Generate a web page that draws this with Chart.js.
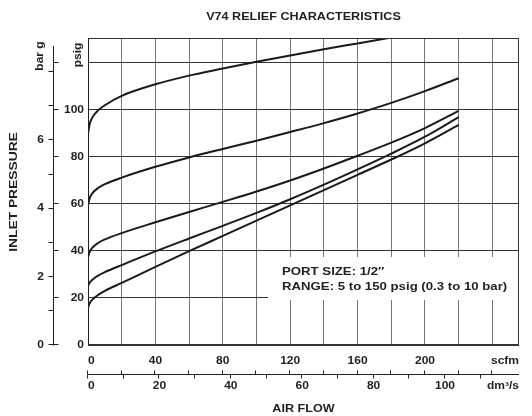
<!DOCTYPE html>
<html>
<head>
<meta charset="utf-8">
<script src="https://cdn.jsdelivr.net/npm/chart.js@4.4.0/dist/chart.umd.min.js"></script>
<style>
    html, body { margin: 0; padding: 0; background: #fff; }
    #wrap { width: 532px; height: 416px; }
</style>
</head>
<body>
<div id="wrap"><canvas id="reliefChart" width="532" height="416"></canvas></div>
<script>
// air flow in scfm, shared by all curves
const FLOW_SCFM = [0, 1, 3, 6, 10, 20, 40, 60, 80, 100, 120, 140, 160, 180, 200, 220];

// inlet pressure (psig), one array per set pressure
const CURVE_A = [89.8, 94, 97.3, 99.8, 102, 106, 110.9, 114.6, 117.6, 120.5, 123.2, 125.8, 128.3, 130.8, null, null];
const CURVE_B = [59.6, 62.5, 64.9, 66.8, 68.4, 71.2, 75.8, 79.8, 83.4, 86.9, 90.6, 94.4, 98.5, 103, 108, 113.5];
const CURVE_C = [37.3, 39.6, 41.7, 43.4, 44.9, 47.6, 52.2, 56.6, 60.9, 65.3, 70, 75.1, 80.5, 86.1, 92.3, 99.6];
const CURVE_D = [25.1, 26.5, 28, 29.5, 31, 34, 39.8, 45.3, 50.7, 56.2, 62, 68.2, 74.7, 81.4, 88.6, 96.9];
const CURVE_E = [16, 17.8, 19.6, 21.3, 23, 26.4, 33.2, 39.9, 46.4, 52.9, 59.4, 65.9, 72.4, 78.9, 85.8, 93.6];

const PSIG_TICKS = [0, 20, 40, 60, 80, 100, 120];
const PSIG_LABELS = [0, 20, 40, 60, 80, 100];
const BAR_TICKS = [0, 1, 2, 3, 4, 5, 6, 7, 8];
const BAR_LABELS = [0, 2, 4, 6];
const SCFM_TICKS = [0, 20, 40, 60, 80, 100, 120, 140, 160, 180, 200, 220, 240];
const SCFM_LABELS = [0, 40, 80, 120, 160, 200];
const DM3S_TICKS = [0, 10, 20, 30, 40, 50, 60, 70, 80, 90, 100, 110];
const DM3S_LABELS = [0, 20, 40, 60, 80, 100];

const PSI_PER_BAR = 14.5038;
const SCFM_PER_DM3S = 2.11888;

const INK = '#231f20';
const FONT = '"Liberation Sans", Arial, sans-serif';

function crisp(v) {
    return Math.round(v) + 0.5;
}

function txt(ctx, s, x, y, size, align, rot) {
    ctx.save();
    ctx.translate(x, y);
    if (rot) ctx.rotate(-Math.PI / 2);
    ctx.scale(1.2, 1);
    ctx.font = `bold ${size}px ${FONT}`;
    ctx.textAlign = align;
    ctx.textBaseline = 'middle';
    ctx.fillStyle = INK;
    ctx.fillText(s, 0, 0);
    ctx.restore();
}

function line(ctx, x1, y1, x2, y2) {
    ctx.beginPath();
    ctx.moveTo(x1, y1);
    ctx.lineTo(x2, y2);
    ctx.stroke();
}

const decor = {
    id: 'decor',
    beforeDatasetsDraw(chart) {
        const ctx = chart.ctx;
        const area = chart.chartArea;
        // blank panel behind the port size note
        ctx.save();
        ctx.fillStyle = '#fff';
        ctx.fillRect(268, 257, area.right - 268, 43);
        ctx.restore();
    },
    afterDraw(chart) {
        const ctx = chart.ctx;
        const area = chart.chartArea;
        const xs = chart.scales.x;
        const ys = chart.scales.y;

        ctx.save();
        ctx.lineWidth = 1;

        // frame
        ctx.strokeStyle = '#333';
        ctx.strokeRect(crisp(area.left), crisp(area.top),
            Math.round(area.right) - Math.round(area.left) - 1,
            Math.round(area.bottom) - Math.round(area.top) - 1);
        ctx.strokeStyle = INK;
        line(ctx, crisp(area.left), area.top, crisp(area.left), area.bottom);

        // bar g / psig axis on the left
        const axX = 53.5;
        line(ctx, axX, 46, axX, crisp(ys.getPixelForValue(0)));
        PSIG_TICKS.forEach(p => {
            const y = crisp(ys.getPixelForValue(p) - 1);
            line(ctx, axX, y, axX + 5, y);
        });
        BAR_TICKS.forEach(b => {
            const y = crisp(ys.getPixelForValue(b * PSI_PER_BAR) - 1);
            line(ctx, axX - 5, y, axX, y);
        });
        PSIG_LABELS.forEach(p => txt(ctx, String(p), 84, ys.getPixelForValue(p), 10, 'right'));
        BAR_LABELS.forEach(b => txt(ctx, String(b), 44, ys.getPixelForValue(b * PSI_PER_BAR), 10, 'right'));
        txt(ctx, 'psig', 78, 55, 10, 'center', true);
        txt(ctx, 'bar g', 40, 56, 10, 'center', true);
        txt(ctx, 'INLET PRESSURE', 14, 192, 11.5, 'center', true);

        // scfm / dm3/s axis at the bottom
        const axY = 374.5;
        line(ctx, xs.getPixelForValue(0), axY, area.right, axY);
        SCFM_TICKS.forEach(v => {
            const x = crisp(xs.getPixelForValue(v) - 1);
            line(ctx, x, axY - 4, x, axY);
        });
        DM3S_TICKS.forEach(v => {
            const x = crisp(xs.getPixelForValue(v * SCFM_PER_DM3S) - 1);
            line(ctx, x, axY, x, axY + 4);
        });
        SCFM_LABELS.forEach(v => {
            txt(ctx, String(v), xs.getPixelForValue(v), 361, 10, v === 0 ? 'left' : 'center');
        });
        DM3S_LABELS.forEach(v => {
            txt(ctx, String(v), xs.getPixelForValue(v * SCFM_PER_DM3S), 386, 10, v === 0 ? 'left' : 'center');
        });
        txt(ctx, 'scfm', area.right, 361, 10, 'right');
        txt(ctx, 'dm³/s', area.right, 386, 10, 'right');
        txt(ctx, 'AIR FLOW', (area.left + area.right) / 2, 409, 10.5, 'center');

        // title and note
        txt(ctx, 'V74 RELIEF CHARACTERISTICS', (area.left + area.right) / 2, 17, 10.5, 'center');
        txt(ctx, 'PORT SIZE: 1/2″', 282, 272, 11, 'left');
        txt(ctx, 'RANGE: 5 to 150 psig (0.3 to 10 bar)', 282, 287, 11, 'left');

        ctx.restore();
    }
};

function series(values) {
    return FLOW_SCFM.map((x, i) => ({ x: x, y: values[i] })).filter(p => p.y !== null);
}

new Chart(document.getElementById('reliefChart'), {
    type: 'line',
    data: {
        datasets: [CURVE_A, CURVE_B, CURVE_C, CURVE_D, CURVE_E].map(v => ({
            data: series(v),
            borderColor: '#1a1a1a',
            borderWidth: 2,
            pointRadius: 0,
            cubicInterpolationMode: 'monotone',
            fill: false
        }))
    },
    options: {
        responsive: false,
        animation: false,
        layout: { padding: { left: 88, right: 13, top: 38, bottom: 71 } },
        plugins: {
            legend: { display: false },
            tooltip: { enabled: false }
        },
        scales: {
            x: {
                type: 'linear',
                min: 0,
                max: 255.8,
                afterBuildTicks: s => { s.ticks = SCFM_TICKS.map(v => ({ value: v })); },
                ticks: { display: false },
                grid: { color: '#777', drawTicks: false },
                border: { display: false }
            },
            y: {
                type: 'linear',
                min: 0,
                max: 130.6,
                afterBuildTicks: s => { s.ticks = PSIG_TICKS.map(v => ({ value: v })); },
                ticks: { display: false },
                grid: { color: '#333', drawTicks: false },
                border: { display: false }
            }
        }
    },
    plugins: [decor]
});
</script>
</body>
</html>
